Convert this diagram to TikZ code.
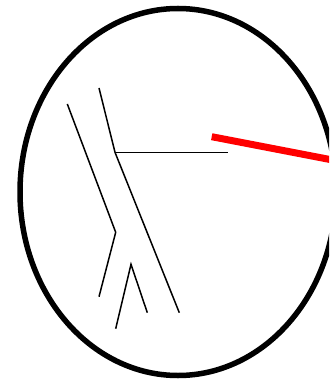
\documentclass[tikz,border=0pt]{standalone}
\begin{document}
\begin{tikzpicture}[x=1pt, y=-1pt]
    \useasboundingbox (0,0) rectangle (329,379);
    \clip (0,0) rectangle (329,379);
    \coordinate (a1) at (67.3, 104);
    \coordinate (a2) at (115.7, 232.3);
    \coordinate (a3) at (99, 296.7);
    \coordinate (b1) at (99, 88);
    \coordinate (b2) at (115, 152.3);
    \coordinate (b3) at (179.3, 312.7);
    \coordinate (h)  at (228, 152.3);
    \coordinate (l1) at (115.7, 328.7);
    \coordinate (l2) at (131, 264.3);
    \coordinate (l3) at (147.3, 312.7);
    \coordinate (r1) at (211.7, 136.7);
    \coordinate (r2) at (345, 162.4);
    \draw[line width=5.5pt] (178, 192) ellipse (158 and 183.5);
    \draw[line width=1.5pt] (a1)--(a2)--(a3);
    \draw[line width=1.5pt] (b1)--(b2)--(b3);
    \draw[line width=1.2pt] (b2)--(h);
    \draw[line width=1.5pt] (l1)--(l2)--(l3);
    \draw[red, line width=7pt] (r1)--(r2);
\end{tikzpicture}
\end{document}
